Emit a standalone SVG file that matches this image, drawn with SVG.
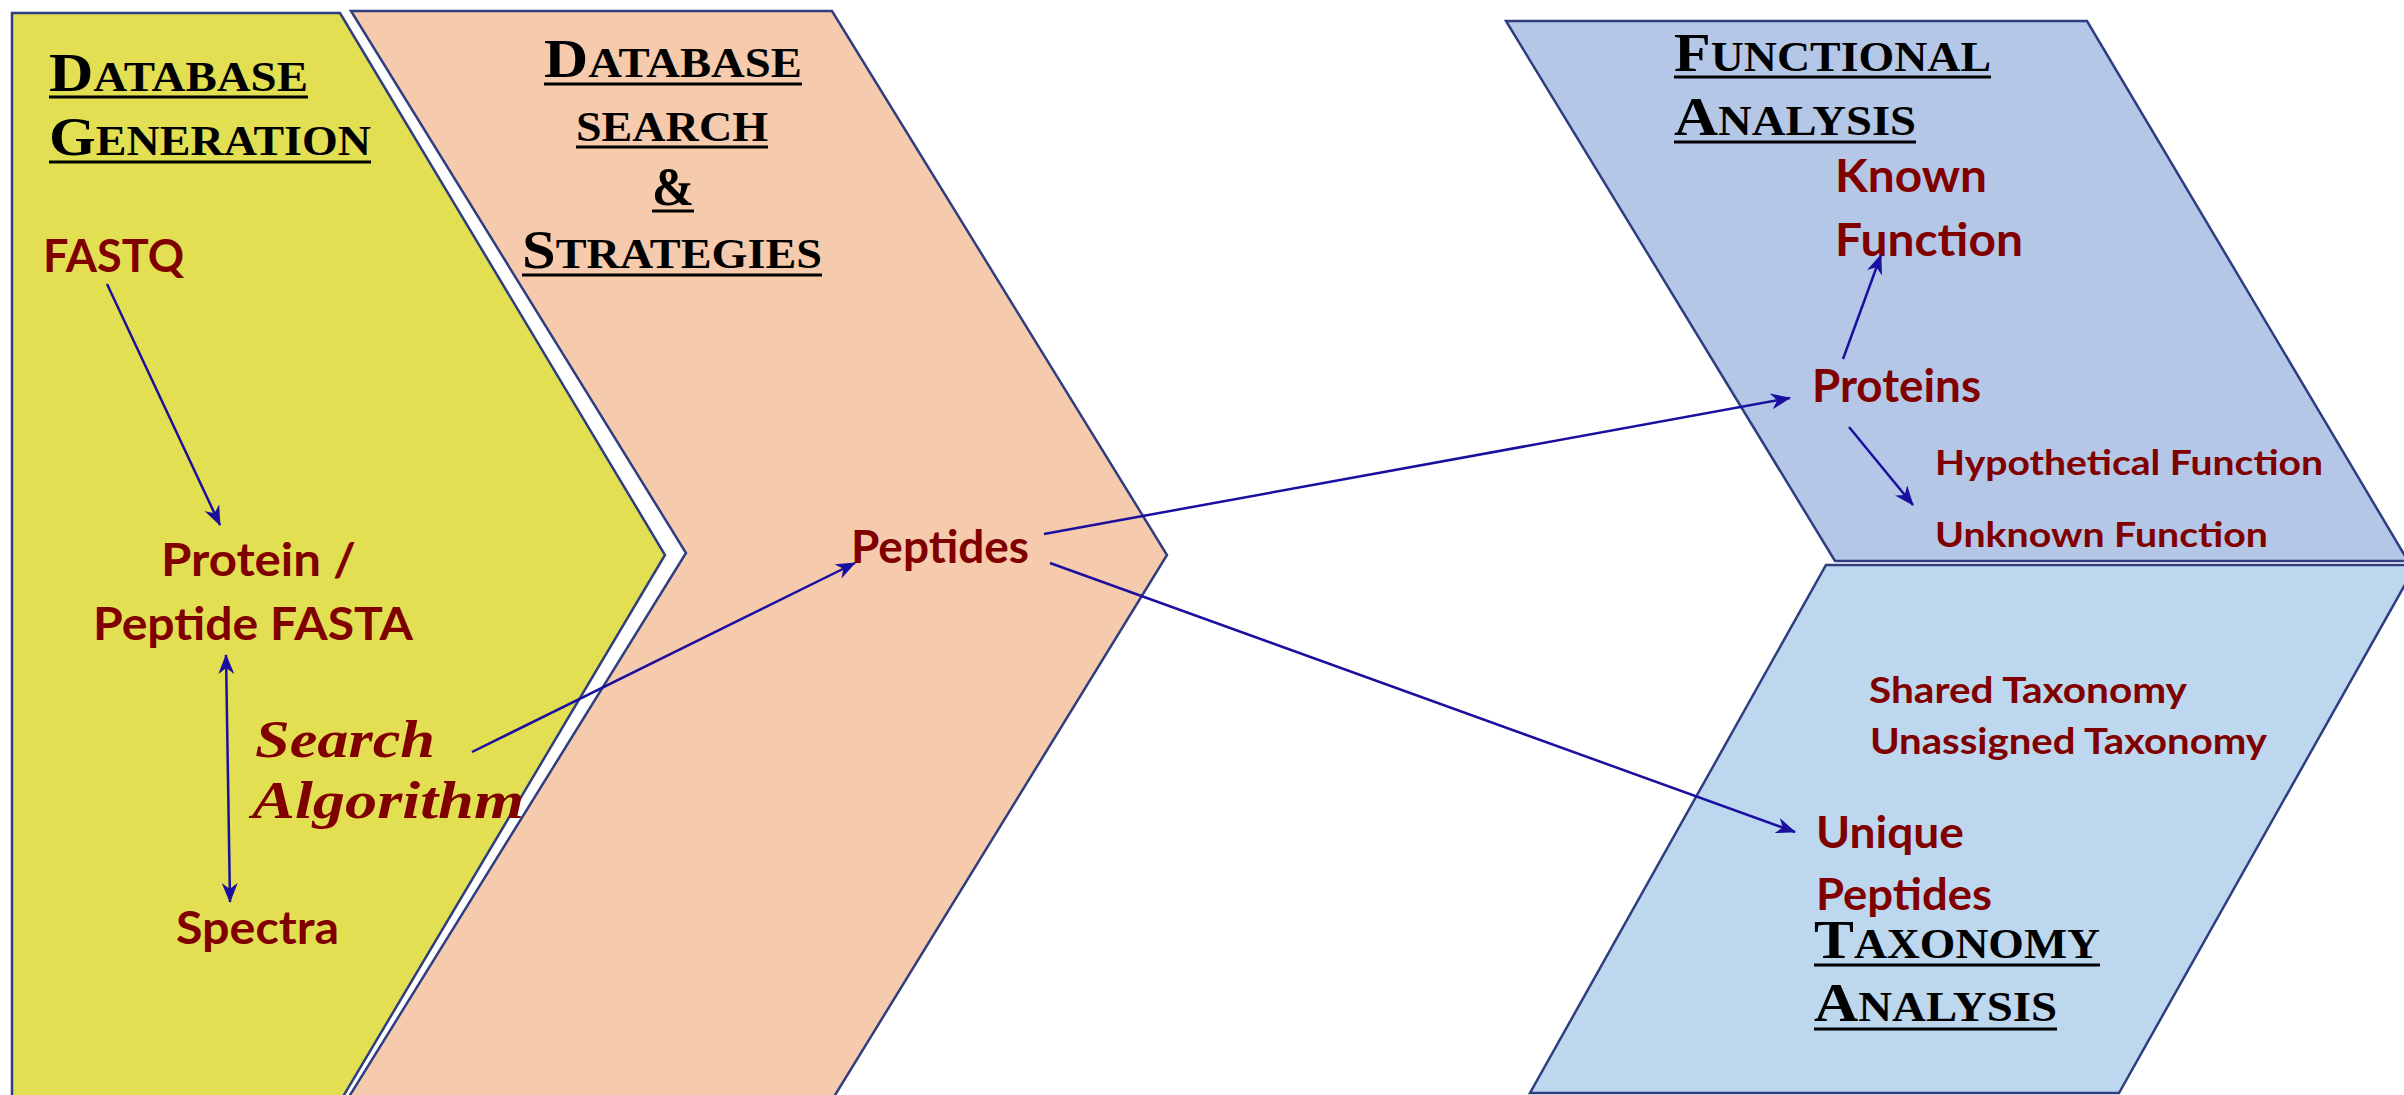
<svg xmlns="http://www.w3.org/2000/svg" width="2404" height="1095" viewBox="0 0 2404 1095">
<style>
.shape{stroke:#2E3E80;stroke-width:2.5;stroke-linejoin:miter}
.lbl{font-family:Lato,"Open Sans","Liberation Sans",sans-serif;font-weight:700;fill:#800000}
.ttl{font-family:"Liberation Serif","Times New Roman",serif;font-weight:700;fill:#000}
.big{font-size:55px}
.sm{font-size:42px}
.ul{stroke:#000;stroke-width:3}
.alg{font-family:"Liberation Serif","DejaVu Serif",serif;font-weight:700;font-style:italic;fill:#800000;font-size:52px}
.conn{stroke:#1A0F9E;stroke-width:2.5;fill:none}
</style>
<defs>
<marker id="ah" markerUnits="userSpaceOnUse" viewBox="0 0 20 16" markerWidth="20" markerHeight="16" refX="19" refY="8" orient="auto-start-reverse">
<path d="M0,0 L20,8 L0,16 L6,8 Z" fill="#1A0F9E"/>
</marker>
</defs>
<rect width="2404" height="1095" fill="#fff"/>

<g id="db-generation">
<path class="shape" fill="#E2E052" d="M12,13 L340,13 L665,555 L341,1100 L12,1100 Z"/>
<text class="ttl" x="49" y="91" textLength="259" lengthAdjust="spacingAndGlyphs"><tspan class="big">D</tspan><tspan class="sm">ATABASE</tspan></text>
<line class="ul" x1="49" y1="97" x2="308" y2="97"/>
<text class="ttl" x="49" y="155" textLength="322" lengthAdjust="spacingAndGlyphs"><tspan class="big">G</tspan><tspan class="sm">ENERATION</tspan></text>
<line class="ul" x1="49" y1="162" x2="371" y2="162"/>
</g>

<g id="db-search">
<path class="shape" fill="#F6CAAC" d="M351,11 L832,11 L1167,555 L832,1100 L347,1100 L686,553 Z"/>
<text class="ttl" x="544" y="77" textLength="258" lengthAdjust="spacingAndGlyphs"><tspan class="big">D</tspan><tspan class="sm">ATABASE</tspan></text>
<line class="ul" x1="544" y1="84" x2="802" y2="84"/>
<text class="ttl sm" x="576" y="141" textLength="192" lengthAdjust="spacingAndGlyphs">SEARCH</text>
<line class="ul" x1="576" y1="147" x2="768" y2="147"/>
<text class="ttl big" x="652" y="205" textLength="42" lengthAdjust="spacingAndGlyphs">&amp;</text>
<line class="ul" x1="652" y1="211" x2="694" y2="211"/>
<text class="ttl" x="522" y="268" textLength="300" lengthAdjust="spacingAndGlyphs"><tspan class="big">S</tspan><tspan class="sm">TRATEGIES</tspan></text>
<line class="ul" x1="522" y1="275" x2="822" y2="275"/>
</g>

<g id="functional">
<path class="shape" fill="#B4C7E7" d="M1506,21 L2087,21 L2408,561 L1835,561 Z"/>
<text class="ttl" x="1674" y="71" textLength="317" lengthAdjust="spacingAndGlyphs"><tspan class="big">F</tspan><tspan class="sm">UNCTIONAL</tspan></text>
<line class="ul" x1="1674" y1="77" x2="1991" y2="77"/>
<text class="ttl" x="1674" y="135" textLength="242" lengthAdjust="spacingAndGlyphs"><tspan class="big">A</tspan><tspan class="sm">NALYSIS</tspan></text>
<line class="ul" x1="1674" y1="142" x2="1916" y2="142"/>
</g>

<g id="taxonomy">
<path class="shape" fill="#BDD7EE" d="M1826,565 L2416,565 L2119,1093 L1530,1093 Z"/>
<text class="ttl" x="1814" y="958" textLength="286" lengthAdjust="spacingAndGlyphs"><tspan class="big">T</tspan><tspan class="sm">AXONOMY</tspan></text>
<line class="ul" x1="1814" y1="965" x2="2100" y2="965"/>
<text class="ttl" x="1814" y="1021" textLength="243" lengthAdjust="spacingAndGlyphs"><tspan class="big">A</tspan><tspan class="sm">NALYSIS</tspan></text>
<line class="ul" x1="1814" y1="1029" x2="2057" y2="1029"/>
</g>

<g id="fastq"><text class="lbl" font-size="45" x="43" y="272" textLength="141" lengthAdjust="spacingAndGlyphs">FASTQ</text></g>
<g id="protein-fasta">
<text class="lbl" font-size="45" x="161" y="576" textLength="195" lengthAdjust="spacingAndGlyphs">Protein /</text>
<text class="lbl" font-size="45" x="93" y="640" textLength="320" lengthAdjust="spacingAndGlyphs">Peptide FASTA</text>
</g>
<g id="spectra"><text class="lbl" font-size="45" x="176" y="944" textLength="163" lengthAdjust="spacingAndGlyphs">Spectra</text></g>
<g id="search-algorithm">
<text class="alg" x="255" y="757" textLength="180" lengthAdjust="spacingAndGlyphs">Search</text>
<text class="alg" x="252" y="818" textLength="272" lengthAdjust="spacingAndGlyphs">Algorithm</text>
</g>
<g id="peptides"><text class="lbl" font-size="45" x="851" y="563" textLength="178" lengthAdjust="spacingAndGlyphs">Peptides</text></g>
<g id="known-function">
<text class="lbl" font-size="45" x="1835" y="192" textLength="152" lengthAdjust="spacingAndGlyphs">Known</text>
<text class="lbl" font-size="45" x="1835" y="256" textLength="188" lengthAdjust="spacingAndGlyphs">Function</text>
</g>
<g id="proteins"><text class="lbl" font-size="45" x="1812" y="402" textLength="169" lengthAdjust="spacingAndGlyphs">Proteins</text></g>
<g id="hypothetical"><text class="lbl" font-size="35" x="1935" y="475" textLength="388" lengthAdjust="spacingAndGlyphs">Hypothetical Function</text></g>
<g id="unknown"><text class="lbl" font-size="35" x="1935" y="547" textLength="333" lengthAdjust="spacingAndGlyphs">Unknown Function</text></g>
<g id="shared"><text class="lbl" font-size="37" x="1869" y="703" textLength="318" lengthAdjust="spacingAndGlyphs">Shared Taxonomy</text></g>
<g id="unassigned"><text class="lbl" font-size="37" x="1870" y="754" textLength="397" lengthAdjust="spacingAndGlyphs">Unassigned Taxonomy</text></g>
<g id="unique-peptides">
<text class="lbl" font-size="43" x="1816" y="848" textLength="148" lengthAdjust="spacingAndGlyphs">Unique</text>
<text class="lbl" font-size="43" x="1816" y="910" textLength="176" lengthAdjust="spacingAndGlyphs">Peptides</text>
</g>

<g id="connectors">
<line class="conn" x1="107" y1="284" x2="220" y2="525" marker-end="url(#ah)"/>
<line class="conn" x1="226" y1="655" x2="230" y2="902" marker-start="url(#ah)" marker-end="url(#ah)"/>
<line class="conn" x1="472" y1="752" x2="855" y2="563" marker-end="url(#ah)"/>
<line class="conn" x1="1044" y1="534" x2="1790" y2="398" marker-end="url(#ah)"/>
<line class="conn" x1="1050" y1="563" x2="1795" y2="832" marker-end="url(#ah)"/>
<line class="conn" x1="1843" y1="359" x2="1881" y2="255" marker-end="url(#ah)"/>
<line class="conn" x1="1849" y1="427" x2="1913" y2="505" marker-end="url(#ah)"/>
</g>
</svg>
